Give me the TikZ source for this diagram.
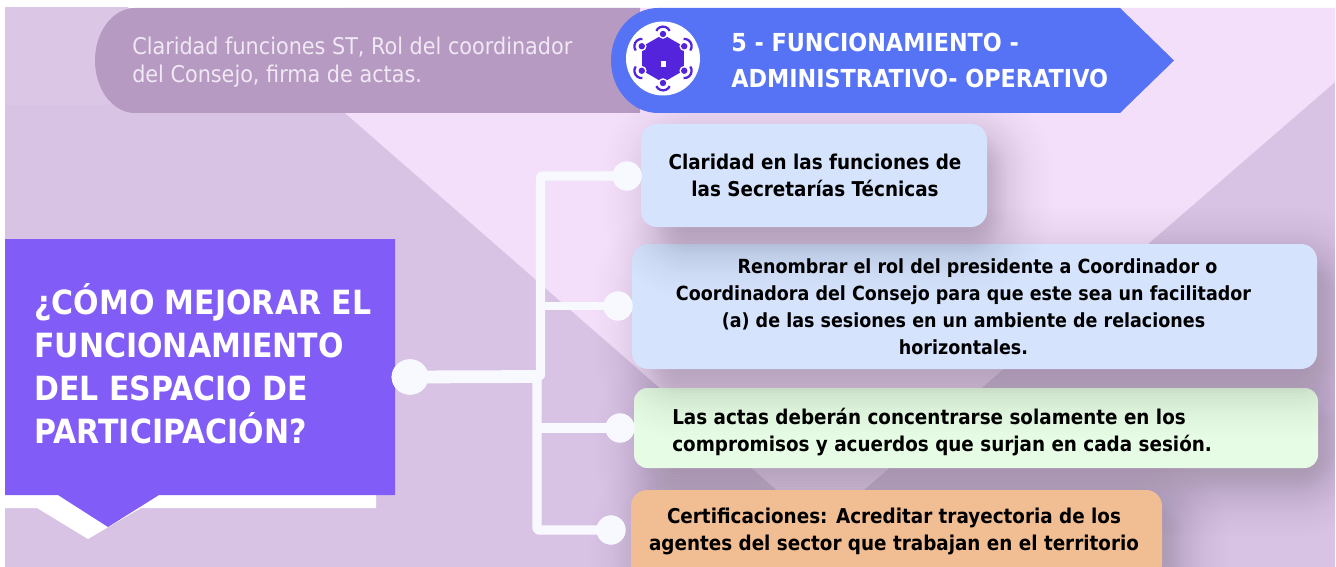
\documentclass[tikz,border=0pt]{standalone}
\usepackage{fontspec}
\usetikzlibrary{shapes.geometric}
\setmainfont{DejaVu Sans}[FakeStretch=0.9]
\definecolor{bglilac}{HTML}{D8C3E5}
\definecolor{bgpink}{HTML}{F4DFFB}
\definecolor{halo}{HTML}{DBC7E5}
\definecolor{pill}{HTML}{B69AC2}
\definecolor{ribbon}{HTML}{5673F5}
\definecolor{iconviolet}{HTML}{5424DC}
\definecolor{question}{HTML}{825CF7}
\definecolor{wire}{HTML}{F8F9FE}
\definecolor{paleblue}{HTML}{D5E3FC}
\definecolor{palegreen}{HTML}{E6FCE4}
\definecolor{peach}{HTML}{F1BD92}
\definecolor{shadowc}{HTML}{3A2A3E}
\definecolor{pilltext}{HTML}{F0E8F4}
\tikzset{
  box/.style={rounded corners=12pt,inner sep=0pt,draw=none},
  boxtext/.style={font=\fontsize{15.3}{20.2}\selectfont\bfseries,text=black,align=center,inner sep=0pt},
  wireline/.style={draw=wire,line width=6.4pt,line cap=butt,line join=round},
  dot/.style={circle,fill=wire,minimum size=21.8pt,inner sep=0pt},
  rootdot/.style={ellipse,fill=wire,minimum width=27.5pt,minimum height=26.5pt,inner sep=0pt},
}
\newcommand{\softshadow}[4]{%
  \foreach \e in {-16,-13,...,56}{%
    \pgfmathsetmacro{\rr}{(\e+30)*0.75}
    \pgfmathsetmacro{\oo}{\e<14 ? 0.019 : (\e<34 ? 0.009 : 0.003)}
    \fill[shadowc,opacity=\oo,rounded corners=\rr pt]
      ({#1-\e},{#2-\e}) rectangle ({#3+\e},{#4+\e});
  }}
\begin{document}
\begin{tikzpicture}[x=0.75pt,y=-0.75pt]
\useasboundingbox (0,0) rectangle (1336,567);
\begin{scope}
\clip (5,8) rectangle (1335,567);
% background
\fill[bglilac] (5,8) rectangle (1335,567);
\fill[bgpink] (345,113) -- (820,528) -- (1335,82) -- (1335,8) -- (345,8) -- cycle;
% pale halo and pill
\fill[halo,rounded corners=20pt] (-20,-10) rectangle (130,105);
\fill[pill] (640,8) -- (135,8) arc[x radius=40,y radius=-52.5,start angle=90,end angle=270] -- (640,113) -- cycle;
% orange box shadow, then stacked boxes from the bottom up
\softshadow{646}{505}{1172}{590}
\softshadow{650}{405}{1326}{482}
\node[box,fill=peach,minimum width=398.25pt,minimum height=67.5pt] (b4) at (896.5,535) {};
\node[box,rounded corners=10pt,fill=palegreen,minimum width=513pt,minimum height=60pt] (b3) at (976,428) {};
\softshadow{650}{262}{1326}{382}
\node[box,fill=paleblue,minimum width=513.75pt,minimum height=93.75pt] (b2) at (974.5,306.5) {};
\softshadow{660}{140}{996}{242}
\node[box,fill=paleblue,minimum width=259.5pt,minimum height=77.25pt] (b1) at (814,175.5) {};
\end{scope}
% ribbon
\fill[ribbon] (1120,8) -- (1174,60.5) -- (1120,113) -- (658,113) arc[x radius=47,y radius=-52.5,start angle=270,end angle=90] -- cycle;
% icon
\fill[white] (663,58.5) circle[radius=37];
\fill[iconviolet] (663,34.5) -- (683.8,46.5) -- (683.8,70.5) -- (663,82.5) -- (642.2,70.5) -- (642.2,46.5) -- cycle;
\foreach \a in {30,90,150,210,270,330}{
  \fill[white] (663,58.5) ++(\a:24.5) circle[radius=4.8];
  \fill[iconviolet] (663,58.5) ++(\a:24.5) circle[radius=3.2];
  \draw[iconviolet,line width=1.7pt] (663,58.5) ++(\a:24.5) ++({\a+65}:7.4) arc[radius=7.4,start angle={\a+65},end angle={\a-65}];
}
\fill[white] (661,61) rectangle (666,67);
% question box
\fill[white] (5,495) -- (376,495) -- (376,508) -- (141,508) -- (88,539) -- (37,508) -- (5,508) -- cycle;
\fill[question] (5,239) -- (395,239) -- (395,495) -- (159,495) -- (108,527) -- (58,495) -- (5,495) -- cycle;
% connector
\node[rootdot] (root) at (410,377) {};
\node[dot] (d1) at (627,176) {};
\node[dot] (d2) at (618,306) {};
\node[dot] (d3) at (620,428) {};
\node[dot] (d4) at (611,530) {};
\coordinate (tup) at (540.5,176);
\coordinate (tdn) at (537,530);
\coordinate (tjoin) at (540.5,376.5);
\draw[wireline,line width=7pt,rounded corners=1.5pt] (d1.center) -- (tup) -- (tjoin) -- (root.center);
\draw[wireline,line width=6.6pt] (tup |- d2) -- (d2.center);
\draw[wireline,line width=7pt,rounded corners=1.5pt] (tdn |- root) -- (tdn) -- (d4.center);
\draw[wireline,line width=7.2pt] (tdn |- d3) -- (d3.center);
\draw[wireline,line width=9.6pt] (root.center) -- (tjoin);
\node[rootdot] at (root.center) {};
\node[dot] at (d1.center) {};
\node[dot] at (d2.center) {};
\node[dot] at (d3.center) {};
\node[dot] at (d4.center) {};
% labels
\node[anchor=west,align=left,inner sep=0pt,text=pilltext,font=\fontsize{17.3}{21}\selectfont] (pilltxt) at (132,62) {Claridad funciones ST, Rol del coordinador\\del Consejo, firma de actas.};
\node[anchor=west,align=left,inner sep=0pt,text=white,font=\fontsize{18.6}{27.6}\selectfont\bfseries] (ribbontxt) at (731,60.5) {5 - FUNCIONAMIENTO -\\ADMINISTRATIVO- OPERATIVO};
\node[anchor=west,align=left,inner sep=0pt,text=white,font=\fontsize{25}{32.2}\selectfont\bfseries] (qtxt) at (34,364) {¿CÓMO MEJORAR EL\\FUNCIONAMIENTO\\DEL ESPACIO DE\\PARTICIPACIÓN?};
\node[boxtext] (t1) at (815,175.5) {Claridad en las funciones de\\las Secretarías Técnicas};
\node[boxtext,font=\fontsize{14.6}{20.2}\selectfont\bfseries] (t2) at (963.5,306.5) {\hspace*{21pt}Renombrar el rol del presidente a Coordinador o\\Coordinadora del Consejo para que este sea un facilitador\\(a) de las sesiones en un ambiente de relaciones\\horizontales.};
\node[boxtext,anchor=west,align=left] (t3) at (672,432) {Las actas deberán concentrarse solamente en los\\compromisos y acuerdos que surjan en cada sesión.};
\node[boxtext] (t4) at (894,531) {Certificaciones: Acreditar trayectoria de los\\agentes del sector que trabajan en el territorio};
\end{tikzpicture}
\end{document}
